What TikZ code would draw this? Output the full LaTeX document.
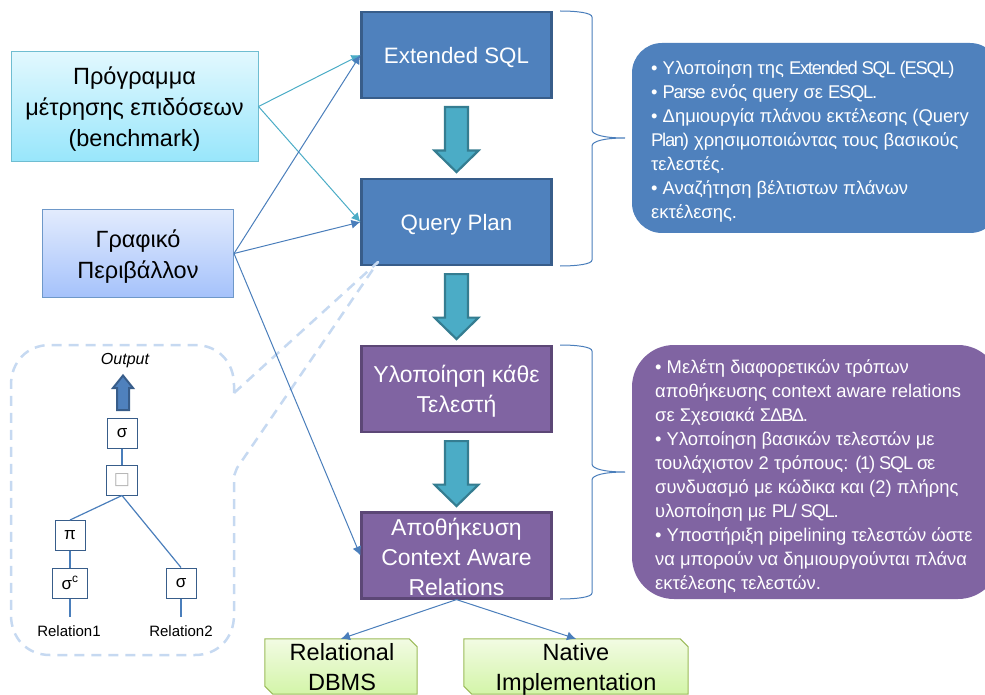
\documentclass[tikz,border=0pt]{standalone}
\usepackage{fontspec}
\setmainfont{Liberation Sans}
\newfontfamily\symfont{DejaVu Sans}
\newfontfamily\latfont[LetterSpace=-7]{Liberation Sans}
\newcommand\tight[1]{{\latfont #1}}
\newcommand\dropped[2]{\raisebox{-#1}[0pt][0pt]{\begin{tabular}{@{}c@{}}#2\end{tabular}}}
\usetikzlibrary{arrows.meta,calc}
\definecolor{bluemain}{HTML}{4F81BD}
\definecolor{blueedge}{HTML}{385D8A}
\definecolor{purplemain}{HTML}{8064A2}
\definecolor{purpleedge}{HTML}{5C4776}
\definecolor{tealmain}{HTML}{4BACC6}
\definecolor{tealdark}{HTML}{357D91}
\definecolor{dashcol}{HTML}{C6D9F1}
\definecolor{lineblue}{HTML}{4A7EBB}
\definecolor{greentop}{HTML}{F2FBE3}
\definecolor{greenbot}{HTML}{D3F5A8}
\definecolor{greenedge}{HTML}{9BBB59}
\definecolor{cyantop}{HTML}{E2F8FE}
\definecolor{cyanbot}{HTML}{98E6FB}
\definecolor{periwtop}{HTML}{E2EBFD}
\definecolor{periwbot}{HTML}{A5C2FB}
\tikzset{
  x=1pt,y=-1pt,
  mainbox/.style={rectangle,minimum width=190pt,minimum height=86pt,inner sep=0pt,line width=2.2pt,text=white},
  bluebox/.style={mainbox,fill=bluemain,draw=blueedge,font=\fontsize{22.3}{30}\selectfont},
  purplebox/.style={mainbox,fill=purplemain,draw=purpleedge,font=\fontsize{23}{30}\selectfont},
  lightbox/.style={rectangle,inner sep=0pt,line width=1pt,text=black,font=\fontsize{23.5}{31}\selectfont},
  greenanchor/.style={rectangle,inner sep=0pt,minimum height=55pt},
  greenfill/.style={draw=greenedge,line width=1pt,top color=greentop,bottom color=greenbot},
  greentext/.style={inner sep=0pt,align=center,text=black,font=\fontsize{23.5}{30}\selectfont},
  infotext/.style={inner sep=0pt,text=white,align=left,anchor=north west,font=\fontsize{18.4}{24}\selectfont},
  optbox/.style={rectangle,draw=blueedge,line width=1pt,fill=white,inner sep=0pt,minimum height=30pt,font=\fontsize{17}{18}\selectfont},
  conn/.style={line width=1pt,draw=lineblue,-{Latex[length=9pt,width=9pt]}},
  connteal/.style={line width=1pt,draw=tealmain,-{Latex[length=9pt,width=9pt]}},
  treeline/.style={line width=1.2pt,draw=lineblue},
  brace/.style={line width=1pt,draw=lineblue},
  flowarrow/.style={fill=tealmain,draw=tealdark,line width=2.2pt,line join=miter},
  outarrow/.style={fill=bluemain,draw=blueedge,line width=2pt,line join=miter},
  callout/.style={dashcol,line width=2.5pt,dash pattern=on 10pt off 7pt},
  treelabel/.style={inner sep=0pt,font=\fontsize{15}{16}\selectfont},
}
\newcommand\blockdown[1]{\draw[flowarrow] #1 ++(-11.5,0) -- ++(23,0) -- ++(0,43.5) -- ++(10.5,0) -- ++(-22,21.5) -- ++(-22,-21.5) -- ++(10.5,0) -- cycle;}
\newcommand\snipped[1]{\draw[greenfill] (#1.north west) -- ($(#1.north east)+(-8,0)$) -- ($(#1.north east)+(0,8)$) -- (#1.south east) -- ($(#1.south west)+(8,0)$) -- ($(#1.south west)+(0,-8)$) -- cycle;}
\begin{document}
\begin{tikzpicture}
\useasboundingbox (0,0) rectangle (985,695);
% main boxes
\node[bluebox] (esql) at (456.5,55) {\dropped{8pt}{Extended SQL}};
\node[bluebox] (qplan) at (456.5,222) {\dropped{8pt}{Query Plan}};
\node[purplebox] (impl) at (456.5,389) {\dropped{9pt}{Υλοποίηση κάθε\\Τελεστή}};
\node[purplebox] (store) at (456.5,555.5) {\dropped{10pt}{Αποθήκευση\\Context Aware\\Relations}};
% callout
\draw[callout,line join=round] (234,393) -- (234,385) .. controls (234,362) and (218,345) .. (195,345) -- (50,345) .. controls (27,345) and (11,362) .. (11,385) -- (11,615) .. controls (11,638) and (27,655) .. (50,655) -- (195,655) .. controls (218,655) and (234,638) .. (234,615) -- (234,476) -- (237,468) -- (378,262) -- cycle;
% flow arrows
\blockdown{($(esql.south)+(0,8)$)}
\blockdown{($(qplan.south)+(0,8)$)}
\blockdown{($(impl.south)+(0,8)$)}
% left boxes
\node[lightbox,draw=tealmain!80,top color=cyantop,bottom color=cyanbot,minimum width=247pt,minimum height=110pt] (bench) at (134.5,106.5) {\dropped{9.5pt}{Πρόγραμμα\\μέτρησης επιδόσεων\\(benchmark)}};
\node[lightbox,draw=lineblue!80,top color=periwtop,bottom color=periwbot,minimum width=191pt,minimum height=87pt] (gui) at (138,253.5) {\dropped{9.5pt}{Γραφικό\\Περιβάλλον}};
% green
\node[greenanchor,minimum width=152pt] (rel) at (341,666.5) {};
\snipped{rel}
\node[greentext] (reltext) at (342,667) {Relational\\DBMS};
\node[greenanchor,minimum width=224pt] (nat) at (576,666.5) {};
\snipped{nat}
\node[greentext] (nattext) at (576,669) {Native\\Implementation};
% connectors
\draw[connteal] (bench.east) -- (esql.west);
\draw[connteal] (bench.east) -- (qplan.west);
\draw[conn] (gui.east) -- (esql.west);
\draw[conn] (gui.east) -- (qplan.west);
\draw[conn] (gui.east) -- (store.west);
\draw[conn] (store.south) -- (rel.north);
\draw[conn] (store.south) -- (nat.north);
% braces
\coordinate (b1a) at (560,11);
\coordinate (b1t) at (625,138);
\coordinate (b1b) at (560,266);
\draw[brace] (b1a) .. controls (578,11) and (592,13) .. (592,17) -- (592,130) .. controls (592,135) and (605,138) .. (b1t) .. controls (605,138) and (592,141) .. (592,146) -- (592,260) .. controls (592,264) and (578,266) .. (b1b);
\coordinate (b2a) at (560,345);
\coordinate (b2t) at (625,472);
\coordinate (b2b) at (560,599);
\draw[brace] (b2a) .. controls (578,345) and (592,347) .. (592,351) -- (592,464) .. controls (592,469) and (605,472) .. (b2t) .. controls (605,472) and (592,475) .. (592,480) -- (592,593) .. controls (592,597) and (578,599) .. (b2b);
% info boxes
\fill[bluemain,rounded corners=30pt] (632,43) rectangle (1000,233);
\node[infotext] (info1) at (651,60.5) {• Υλοποίηση της \tight{Extended SQL (ESQL)}\\• \tight{Parse} ενός query σε \tight{ESQL.}\\• Δημιουργία πλάνου εκτέλεσης (Query\\\tight{Plan)} χρησιμοποιώντας τους βασικούς\\τελεστές.\\• Αναζήτηση βέλτιστων πλάνων\\εκτέλεσης.};
\fill[purplemain,rounded corners=42pt] (632,345) rectangle (1000,599);
\node[infotext] (info2) at (655,359.5) {• Μελέτη διαφορετικών τρόπων\\αποθήκευσης context aware relations\\σε Σχεσιακά \tight{ΣΔΒΔ.}\\• Υλοποίηση βασικών τελεστών με\\τουλάχιστον 2 τρόπους: \tight{(1) SQL σε}\\συνδυασμό με κώδικα και (2) πλήρης\\υλοποίηση με \tight{PL/ SQL.}\\• Υποστήριξη pipelining τελεστών ώστε\\να μπορούν να δημιουργούνται πλάνα\\εκτέλεσης τελεστών.};
% tree
\node[treelabel,font=\itshape\fontsize{16}{18}\selectfont] (out) at (125,361) {Output};
\draw[outarrow] (117,410) -- (129,410) -- (129,388) -- (133,388) -- (123,375.5) -- (113,388) -- (117,388) -- cycle;
\node[optbox,minimum width=30pt] (s1) at (122,433) {σ};
\node[optbox,minimum width=31pt] (j) at (122,480) {\textcolor{gray!60}{\symfont □}};
\node[optbox,minimum width=30pt] (p) at (70,535.5) {π};
\node[optbox,minimum width=35pt] (sc) at (70,583) {σ\textsuperscript{c}};
\node[optbox,minimum width=30pt] (s2) at (181,583) {σ};
\node[treelabel] (r1) at (69,631) {Relation1};
\node[treelabel] (r2) at (181,631) {Relation2};
\draw[treeline] (s1) -- (j);
\draw[treeline] (j.south) -- (p.north);
\draw[treeline] (j.south) -- (s2.north);
\draw[treeline] (p) -- (sc);
\draw[treeline] (sc.south) -- ($(sc.south |- r1.north)+(0,-8)$);
\draw[treeline] (s2.south) -- ($(s2.south |- r2.north)+(0,-8)$);
\end{tikzpicture}
\end{document}
